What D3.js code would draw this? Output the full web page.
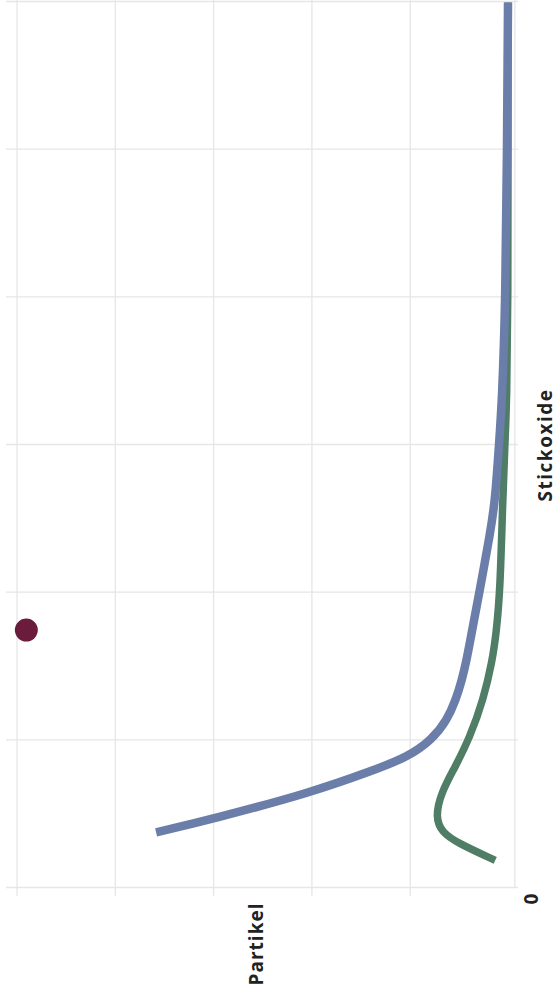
<!DOCTYPE html>
<html>
<head>
<meta charset="utf-8">
<script src="https://cdn.jsdelivr.net/npm/d3@7"></script>
<style>
  body { margin: 0; background: #fff; }
  text { font-family: "Open Sans", Lato, sans-serif; }
</style>
</head>
<body>
<script>
// tick values for both axes
const stickoxideTicks = [0, 1, 2, 3, 4, 5, 6];
const partikelTicks = [1, 2, 3, 4, 5];
const partikelMin = -0.07;

// blue curve (Stickoxide, Partikel)
const blueStickoxide = [0.37, 0.46, 0.64, 0.79, 0.88, 1.0, 1.13, 1.27, 1.4, 1.54, 1.72, 2.0, 2.4, 2.62, 3.01, 3.3, 3.98, 4.99, 5.99];
const bluePartikel = [3.58, 3.01, 2.0, 1.37, 1.02, 0.77, 0.62, 0.53, 0.47, 0.42, 0.37, 0.29, 0.18, 0.13, 0.09, 0.06, 0.025, 0.01, 0.0];

// green curve
const greenStickoxide = [0.18, 0.3, 0.37, 0.47, 0.64, 0.81, 1.01, 1.27, 1.53, 1.72, 2.0, 2.62, 3.01, 3.3, 3.98, 4.99, 5.99];
const greenPartikel = [0.13, 0.52, 0.67, 0.74, 0.68, 0.54, 0.39, 0.25, 0.16, 0.12, 0.08, 0.054, 0.031, 0.012, 0.0, 0.0, 0.0];

// single point
const pointStickoxide = [1.74];
const pointPartikel = [4.9];

const svg = d3.select('body').append('svg')
  .attr('width', 559)
  .attr('height', 999);

// chart is drawn turned: Stickoxide runs upward, Partikel runs to the left
const yS = d3.scaleLinear().domain([0, 6]).range([887, 1]);
const xP = d3.scaleLinear().domain([0, 5]).range([508, 16.5]);

// horizontal grid
const hGrid = svg.append('g')
  .attr('transform', 'translate(6,0)')
  .call(d3.axisRight(yS).tickValues(stickoxideTicks).tickSize(512).tickFormat(''));

// vertical grid
const vGrid = svg.append('g')
  .attr('transform', 'translate(0,896)')
  .call(d3.axisTop(xP).tickValues(partikelTicks).tickSize(896).tickFormat(''));

hGrid.select('.domain').remove();
vGrid.select('.domain').remove();
svg.selectAll('.tick line')
  .style('stroke', '#e6e6e6')
  .style('stroke-width', '1.3px');

// zero line
svg.append('line')
  .attr('x1', xP(partikelMin))
  .attr('x2', xP(partikelMin))
  .attr('y1', 0)
  .attr('y2', yS(0))
  .style('stroke', '#e6e6e6')
  .style('stroke-width', '1.3px');

const line = d3.line()
  .x(d => xP(d[1]))
  .y(d => yS(d[0]))
  .curve(d3.curveBasis);

svg.append('path')
  .datum(d3.zip(greenStickoxide, greenPartikel))
  .attr('d', line)
  .style('fill', 'none')
  .style('stroke', '#4f7d65')
  .style('stroke-width', '7.5px');

svg.append('path')
  .datum(d3.zip(blueStickoxide, bluePartikel))
  .attr('d', line)
  .style('fill', 'none')
  .style('stroke', '#6a7ea9')
  .style('stroke-width', '8.5px');

svg.selectAll('circle')
  .data(d3.zip(pointStickoxide, pointPartikel))
  .join('circle')
  .attr('cx', d => xP(d[1]))
  .attr('cy', d => yS(d[0]))
  .attr('r', 11.5)
  .attr('fill', '#6b1b3c');

// labels
svg.append('text')
  .attr('transform', 'translate(552,445) rotate(-90)')
  .attr('text-anchor', 'middle')
  .style('font-size', '19px')
  .style('font-weight', 'bold')
  .style('letter-spacing', '1.5px')
  .style('fill', '#222')
  .text('Stickoxide');

svg.append('text')
  .attr('transform', 'translate(263,944) rotate(-90)')
  .attr('text-anchor', 'middle')
  .style('font-size', '19px')
  .style('font-weight', 'bold')
  .style('letter-spacing', '1px')
  .style('fill', '#222')
  .text('Partikel');

svg.append('text')
  .attr('transform', 'translate(538,899) rotate(-90)')
  .attr('text-anchor', 'middle')
  .style('font-size', '19px')
  .style('font-weight', 'bold')
  .style('fill', '#222')
  .text('0');
</script>
</body>
</html>
